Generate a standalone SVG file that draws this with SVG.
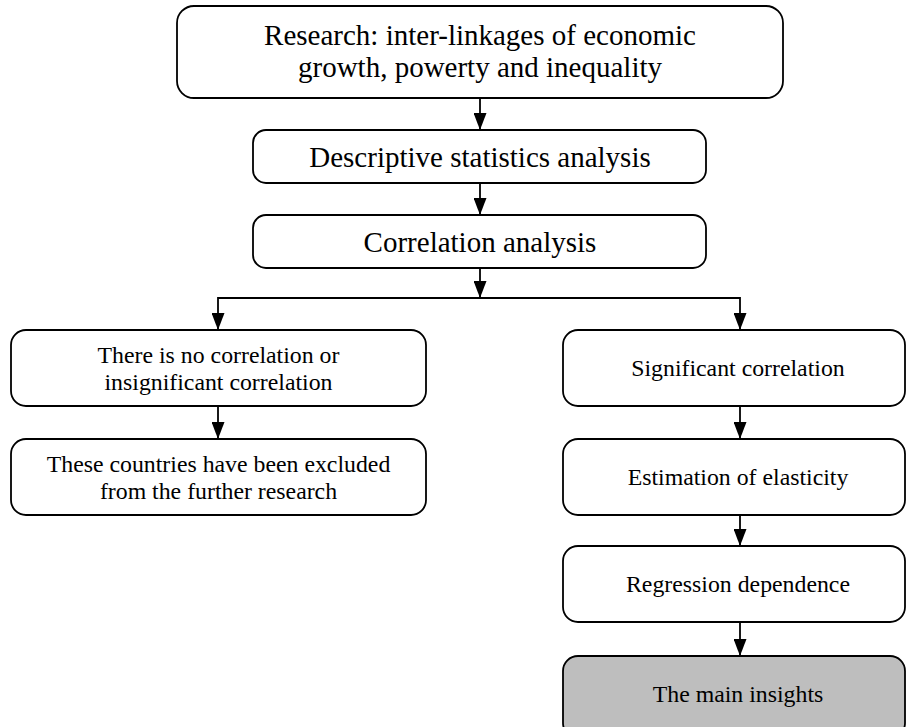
<svg xmlns="http://www.w3.org/2000/svg" width="906" height="727" viewBox="0 0 906 727">
<style>
.box{fill:#ffffff;stroke:#000000;stroke-width:1.8}
.grey{fill:#bebebe}
.big{font-family:"Liberation Serif","Times New Roman",serif;font-size:29px;fill:#000;text-anchor:middle}
.small{font-family:"Liberation Serif","Times New Roman",serif;font-size:23.8px;fill:#000;text-anchor:middle}
.conn{fill:none;stroke:#000;stroke-width:1.8}
</style>
<defs>
<marker id="arr" markerUnits="userSpaceOnUse" markerWidth="17" markerHeight="13" viewBox="0 0 17 13" refX="17" refY="6.5" orient="auto">
<path d="M0,0 L17,6.5 L0,13 z" fill="#000"/>
</marker>
</defs>
<rect width="906" height="727" fill="#ffffff"/>
<g id="n-research">
<rect class="box" x="177" y="6" width="606" height="92" rx="17"/>
<text class="big" x="480" y="45">Research: inter-linkages of economic</text>
<text class="big" x="480" y="77">growth, powerty and inequality</text>
</g>
<g id="n-descriptive">
<rect class="box" x="253" y="130" width="453" height="53" rx="13"/>
<text class="big" x="480" y="167">Descriptive statistics analysis</text>
</g>
<g id="n-correlation">
<rect class="box" x="253" y="215" width="453" height="53" rx="13"/>
<text class="big" x="480" y="252">Correlation analysis</text>
</g>
<g id="n-nocorr">
<rect class="box" x="11" y="330" width="415" height="76" rx="15"/>
<text class="small" x="218.5" y="363">There is no correlation or</text>
<text class="small" x="218.5" y="390">insignificant correlation</text>
</g>
<g id="n-excluded">
<rect class="box" x="11" y="439" width="415" height="76" rx="15"/>
<text class="small" x="218.5" y="472">These countries have been excluded</text>
<text class="small" x="218.5" y="499">from the further research</text>
</g>
<g id="n-significant">
<rect class="box" x="563" y="330" width="342" height="76" rx="15"/>
<text class="small" x="738" y="376">Significant correlation</text>
</g>
<g id="n-elasticity">
<rect class="box" x="563" y="439" width="342" height="76" rx="15"/>
<text class="small" x="738" y="485">Estimation of elasticity</text>
</g>
<g id="n-regression">
<rect class="box" x="563" y="546" width="342" height="76" rx="15"/>
<text class="small" x="738" y="592">Regression dependence</text>
</g>
<g id="n-insights">
<rect class="box grey" x="563" y="656" width="342" height="82" rx="15"/>
<text class="small" x="738" y="702">The main insights</text>
</g>
<g id="connectors">
<path class="conn" d="M480,98 V130" marker-end="url(#arr)"/>
<path class="conn" d="M480,183 V215" marker-end="url(#arr)"/>
<path class="conn" d="M480,268 V298" marker-end="url(#arr)"/>
<path class="conn" d="M480,298 H218 V330" marker-end="url(#arr)"/>
<path class="conn" d="M480,298 H740 V330" marker-end="url(#arr)"/>
<path class="conn" d="M218,406 V439" marker-end="url(#arr)"/>
<path class="conn" d="M740,406 V439" marker-end="url(#arr)"/>
<path class="conn" d="M740,515 V546" marker-end="url(#arr)"/>
<path class="conn" d="M740,622 V656" marker-end="url(#arr)"/>
</g>
</svg>
